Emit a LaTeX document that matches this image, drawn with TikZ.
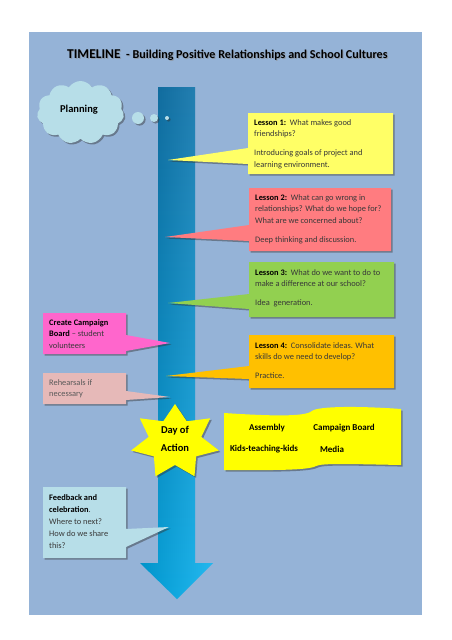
\documentclass[tikz,border=0pt]{standalone}
\usepackage{fontspec}
\setmainfont{Carlito}
\usetikzlibrary{shapes.symbols,shadows}
\definecolor{bg}{HTML}{95B3D7}
\definecolor{lone}{HTML}{FFFF66}
\definecolor{ltwo}{HTML}{FF7C80}
\definecolor{lthree}{HTML}{92D050}
\definecolor{lfour}{HTML}{FFC000}
\definecolor{cc}{HTML}{FF66CC}
\definecolor{reh}{HTML}{E6B9B8}
\definecolor{fb}{HTML}{B7DEE8}
\definecolor{yel}{HTML}{FFFF00}
\definecolor{arrtop}{HTML}{0A74AE}
\definecolor{arrbot}{HTML}{00B0F0}
\newcommand{\hd}[1]{\textcolor{black}{\textbf{#1}}}
\tikzset{
  shade1/.style={drop shadow={shadow xshift=1.6pt, shadow yshift=-1.6pt, opacity=0.45, fill=black!80}},
  callout/.style={shade1},
  txt/.style={anchor=north west, inner sep=0pt, align=left, text=black!78,
    font=\fontsize{8.4}{11.8}\selectfont},
  wtxt/.style={inner sep=0pt, font=\bfseries\fontsize{9}{10}\selectfont}
}
\begin{document}
\begin{tikzpicture}[x=1pt,y=-1pt]
\useasboundingbox (0,0) rectangle (452,640);
\fill[white] (0,0) rectangle (452,640);
\fill[bg] (29,32) rectangle (422,615);

% title
\node[anchor=base west, inner sep=0pt, text=black!45, opacity=0.6] (titleshadow) at (68,59)
  {\bfseries\fontsize{13.5}{15}\selectfont TIMELINE\fontsize{12.1}{13}\selectfont\ \ - Building Positive Relationships and School Cultures};
\node[anchor=base west, inner sep=0pt] (title) at (67,58)
  {\bfseries\fontsize{13.5}{15}\selectfont TIMELINE\fontsize{12.1}{13}\selectfont\ \ - Building Positive Relationships and School Cultures};

% timeline arrow
\path[top color=arrtop, bottom color=arrbot]
  (158,87) -- (195,87) -- (195,563) -- (213,563) -- (177,599) -- (140,563) -- (158,563) -- cycle;
\path[fill opacity=0.14, left color=black, right color=white]
  (158,87) -- (195,87) -- (195,563) -- (213,563) -- (177,599) -- (140,563) -- (158,563) -- cycle;

% cloud
\node[cloud, cloud puffs=11, cloud puff arc=115, cloud ignores aspect, fill=fb, shade1,
  minimum width=87pt, minimum height=63pt, inner sep=0pt] (plan) at (80.5,112.5) {};
\node[inner sep=0pt, font=\bfseries\fontsize{10.5}{12}\selectfont] (plantxt) at (79,110) {Planning};
\fill[fb, shade1] (138,118) circle (6pt);
\fill[fb, shade1] (154,118) circle (4pt);
\fill[fb, shade1] (167,118) circle (2pt);

% lesson callouts
\path[callout, fill=lone] (248,113) -- (393,113) -- (393,174) -- (248,174) -- (248,164) -- (168,160) -- (248,148) -- cycle;
\node[txt] (t1) at (254,119) {\hd{Lesson 1:}\ \ What makes good\\friendships?\\[7pt]Introducing goals of project and\\learning environment.};

\path[callout, fill=ltwo] (249,188) -- (391,188) -- (391,251) -- (249,251) -- (249,241) -- (165,237) -- (249,225) -- cycle;
\node[txt] (t2) at (255,194) {\hd{Lesson 2:}\ \ What can go wrong in\\relationships? What do we hope for?\\What are we concerned about?\\[7pt]Deep thinking and discussion.};

\path[callout, fill=lthree] (249,262) -- (394,262) -- (394,317) -- (249,317) -- (249,309) -- (168,303) -- (249,294) -- cycle;
\node[txt] (t3) at (255,269) {\hd{Lesson 3:}\ \ What do we want to do to\\make a difference at our school?\\[7pt]Idea\ \ generation.};

\path[callout, fill=lfour] (249,335) -- (394,335) -- (394,388) -- (249,388) -- (249,379) -- (166,376) -- (249,366) -- cycle;
\node[txt] (t4) at (255,342) {\hd{Lesson 4:}\ \ Consolidate ideas. What\\skills do we need to develop?\\[7pt]Practice.};

% left callouts
\path[callout, fill=cc] (43,313) -- (126,313) -- (126,335) -- (170,343) -- (126,351) -- (126,354) -- (43,354) -- cycle;
\node[txt] (t5) at (49,319) {\hd{Create Campaign}\\\hd{Board} -- student\\volunteers};

\path[callout, fill=reh] (43,373) -- (126,373) -- (126,391) -- (170,397) -- (126,400) -- (126,404) -- (43,404) -- cycle;
\node[txt, text=black!65] (t6) at (49,379) {Rehearsals if\\necessary};

\path[callout, fill=fb] (43,487) -- (126,487) -- (126,529) -- (169,527) -- (126,547) -- (126,558) -- (43,558) -- cycle;
\node[txt, font=\fontsize{8.4}{12}\selectfont] (t7) at (49,494) {\hd{Feedback and}\\\hd{celebration}.\\Where to next?\\How do we share\\this?};

% day of action star
\path[fill=yel, shade1] plot[samples at={0,...,13}]
  ({175+(mod(\x,2)==0 ? 45 : 27)*cos(90+\x*180/7)}, {442-(mod(\x,2)==0 ? 38 : 23)*sin(90+\x*180/7)}) -- cycle;
\node[inner sep=0pt, align=center, font=\bfseries\fontsize{10.5}{17.5}\selectfont] (doa) at (175,439) {Day of\\Action};

% wave
\path[fill=yel, shade1] (224,413) .. controls (270,416) and (305,417) .. (312,411)
  .. controls (318,406) and (360,406) .. (401,409) -- (401,465)
  .. controls (350,464) and (322,463) .. (316,466)
  .. controls (308,471) and (260,470) .. (224,470) -- cycle;
\node[wtxt] (w1) at (267,428) {Assembly};
\node[wtxt] (w2) at (344,428) {Campaign Board};
\node[wtxt] (w3) at (264,449) {Kids-teaching-kids};
\node[wtxt] (w4) at (332,449) {Media};
\end{tikzpicture}
\end{document}
